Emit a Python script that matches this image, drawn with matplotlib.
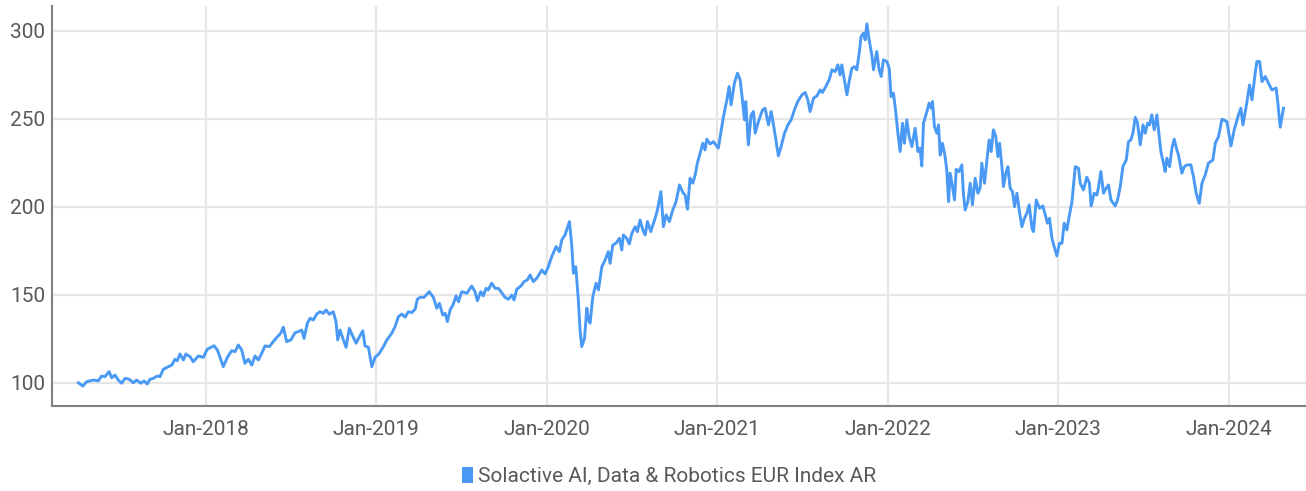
import matplotlib
matplotlib.use("Agg")
import matplotlib.pyplot as plt
from matplotlib.patches import Patch

# Solactive AI, Data & Robotics EUR Index AR
# time axis in decimal years
t = [
    2017.253, 2017.279, 2017.302, 2017.341, 2017.370, 2017.390, 2017.409, 2017.433, 2017.449, 2017.468,
    2017.487, 2017.507, 2017.527, 2017.552, 2017.575, 2017.595, 2017.619, 2017.638, 2017.657, 2017.673,
    2017.693, 2017.716, 2017.732, 2017.751, 2017.781, 2017.801, 2017.820, 2017.833, 2017.849, 2017.869,
    2017.884, 2017.908, 2017.927, 2017.957, 2017.986, 2018.009, 2018.049, 2018.068, 2018.084, 2018.103,
    2018.127, 2018.152, 2018.172, 2018.191, 2018.211, 2018.230, 2018.250, 2018.270, 2018.289, 2018.309,
    2018.328, 2018.348, 2018.373, 2018.396, 2018.420, 2018.440, 2018.455, 2018.475, 2018.499, 2018.524,
    2018.543, 2018.563, 2018.577, 2018.596, 2018.612, 2018.631, 2018.651, 2018.670, 2018.690, 2018.706,
    2018.725, 2018.748, 2018.764, 2018.774, 2018.788, 2018.804, 2018.823, 2018.842, 2018.862, 2018.882,
    2018.901, 2018.921, 2018.934, 2018.954, 2018.974, 2018.993, 2019.018, 2019.042, 2019.062, 2019.091,
    2019.110, 2019.130, 2019.150, 2019.169, 2019.188, 2019.208, 2019.228, 2019.241, 2019.257, 2019.280,
    2019.311, 2019.335, 2019.355, 2019.370, 2019.390, 2019.404, 2019.417, 2019.433, 2019.452, 2019.468,
    2019.482, 2019.501, 2019.531, 2019.560, 2019.579, 2019.593, 2019.613, 2019.628, 2019.644, 2019.657,
    2019.677, 2019.697, 2019.716, 2019.736, 2019.755, 2019.775, 2019.795, 2019.808, 2019.824, 2019.848,
    2019.867, 2019.886, 2019.902, 2019.921, 2019.941, 2019.971, 2019.990, 2020.009, 2020.029, 2020.055,
    2020.074, 2020.088, 2020.107, 2020.133, 2020.147, 2020.156, 2020.170, 2020.185, 2020.195, 2020.205,
    2020.221, 2020.235, 2020.244, 2020.254, 2020.270, 2020.289, 2020.303, 2020.323, 2020.342, 2020.361,
    2020.371, 2020.387, 2020.406, 2020.426, 2020.440, 2020.449, 2020.469, 2020.484, 2020.499, 2020.518,
    2020.531, 2020.547, 2020.563, 2020.577, 2020.590, 2020.610, 2020.635, 2020.649, 2020.669, 2020.684,
    2020.700, 2020.719, 2020.739, 2020.758, 2020.778, 2020.798, 2020.811, 2020.825, 2020.840, 2020.856,
    2020.870, 2020.883, 2020.899, 2020.915, 2020.928, 2020.938, 2020.958, 2020.977, 2021.006, 2021.022,
    2021.036, 2021.056, 2021.069, 2021.081, 2021.100, 2021.118, 2021.134, 2021.147, 2021.159, 2021.167,
    2021.182, 2021.198, 2021.212, 2021.222, 2021.238, 2021.251, 2021.265, 2021.280, 2021.300, 2021.316,
    2021.339, 2021.358, 2021.374, 2021.394, 2021.414, 2021.433, 2021.452, 2021.472, 2021.496, 2021.515,
    2021.531, 2021.544, 2021.564, 2021.584, 2021.603, 2021.616, 2021.636, 2021.656, 2021.672, 2021.691,
    2021.707, 2021.720, 2021.730, 2021.745, 2021.760, 2021.773, 2021.789, 2021.804, 2021.818, 2021.832,
    2021.843, 2021.857, 2021.867, 2021.877, 2021.890, 2021.906, 2021.916, 2021.935, 2021.949, 2021.961,
    2021.974, 2021.994, 2022.008, 2022.019, 2022.033, 2022.047, 2022.059, 2022.072, 2022.086, 2022.097,
    2022.111, 2022.125, 2022.141, 2022.160, 2022.176, 2022.189, 2022.199, 2022.209, 2022.229, 2022.242,
    2022.254, 2022.262, 2022.273, 2022.287, 2022.297, 2022.307, 2022.320, 2022.336, 2022.346, 2022.356,
    2022.365, 2022.379, 2022.391, 2022.401, 2022.418, 2022.434, 2022.443, 2022.453, 2022.469, 2022.483,
    2022.496, 2022.512, 2022.528, 2022.541, 2022.551, 2022.567, 2022.581, 2022.594, 2022.606, 2022.619,
    2022.633, 2022.645, 2022.655, 2022.669, 2022.678, 2022.692, 2022.704, 2022.717, 2022.731, 2022.743,
    2022.757, 2022.770, 2022.786, 2022.801, 2022.815, 2022.829, 2022.845, 2022.854, 2022.870, 2022.889,
    2022.909, 2022.923, 2022.936, 2022.948, 2022.962, 2022.975, 2022.991, 2023.006, 2023.021, 2023.034,
    2023.050, 2023.065, 2023.079, 2023.099, 2023.118, 2023.128, 2023.147, 2023.167, 2023.182, 2023.192,
    2023.210, 2023.226, 2023.235, 2023.249, 2023.265, 2023.280, 2023.294, 2023.308, 2023.333, 2023.347,
    2023.363, 2023.378, 2023.398, 2023.411, 2023.425, 2023.437, 2023.451, 2023.464, 2023.480, 2023.496,
    2023.509, 2023.523, 2023.534, 2023.548, 2023.562, 2023.578, 2023.587, 2023.601, 2023.616, 2023.626,
    2023.636, 2023.652, 2023.666, 2023.679, 2023.695, 2023.704, 2023.724, 2023.738, 2023.754, 2023.777,
    2023.792, 2023.808, 2023.826, 2023.842, 2023.861, 2023.880, 2023.906, 2023.920, 2023.939, 2023.959,
    2023.988, 2024.012, 2024.031, 2024.056, 2024.070, 2024.082, 2024.106, 2024.121, 2024.135, 2024.154,
    2024.164, 2024.180, 2024.194, 2024.213, 2024.232, 2024.252, 2024.277, 2024.285, 2024.301, 2024.320,
]

index_values = [
    100.0, 98.1, 100.6, 101.5, 101.1, 103.8, 103.4, 106.3, 102.8, 104.4,
    101.5, 99.7, 102.5, 101.9, 100.0, 101.5, 99.7, 101.0, 99.3, 101.9,
    102.5, 103.8, 103.4, 107.6, 109.1, 110.0, 113.3, 112.5, 116.3, 112.9,
    116.3, 114.8, 111.9, 115.2, 114.4, 119.0, 121.0, 118.6, 114.4, 109.1,
    114.4, 118.2, 117.6, 121.4, 118.6, 111.0, 113.3, 110.0, 115.2, 112.9,
    116.7, 120.9, 120.5, 123.3, 126.1, 128.1, 131.5, 123.3, 124.3, 128.4,
    129.0, 129.9, 125.2, 133.8, 136.6, 135.6, 139.0, 140.3, 139.4, 141.3,
    138.9, 140.3, 134.7, 124.3, 129.9, 125.2, 120.1, 130.9, 126.5, 122.4,
    126.1, 129.5, 120.9, 120.1, 109.1, 114.4, 116.7, 120.5, 124.3, 128.1,
    131.8, 137.5, 139.0, 137.2, 140.3, 139.8, 141.7, 147.4, 148.5, 148.5,
    151.7, 148.5, 142.3, 145.1, 138.5, 139.4, 134.7, 141.3, 144.7, 149.3,
    146.0, 151.7, 150.8, 154.9, 151.7, 146.6, 151.7, 149.3, 153.6, 152.7,
    156.5, 153.6, 153.6, 151.1, 148.5, 147.4, 149.8, 147.0, 153.1, 154.9,
    157.4, 158.4, 161.2, 157.4, 159.3, 164.0, 161.8, 165.9, 171.6, 177.3,
    174.4, 181.1, 183.9, 191.5, 177.3, 162.2, 165.9, 147.0, 129.9, 120.5,
    125.2, 142.3, 135.6, 133.8, 148.9, 156.5, 152.7, 165.9, 169.7, 174.4,
    167.8, 178.2, 179.2, 182.0, 175.4, 183.9, 182.0, 178.8, 184.9, 188.6,
    185.8, 192.4, 186.8, 183.9, 191.5, 185.8, 193.4, 198.1, 208.5, 188.6,
    195.3, 191.5, 198.1, 202.8, 212.3, 208.0, 206.6, 198.5, 216.1, 213.3,
    218.0, 224.7, 230.3, 236.0, 232.2, 238.3, 235.6, 236.9, 233.2, 242.6,
    251.1, 260.6, 268.2, 257.8, 270.1, 275.8, 272.0, 260.6, 249.3, 259.7,
    235.1, 252.1, 254.0, 241.7, 247.4, 251.1, 254.9, 255.9, 246.4, 254.0,
    240.7, 228.8, 234.1, 241.7, 246.4, 249.3, 254.9, 259.7, 263.5, 264.8,
    260.6, 254.0, 261.6, 262.9, 266.3, 264.8, 268.2, 272.0, 277.7, 276.7,
    280.5, 274.8, 280.5, 272.0, 263.5, 271.0, 278.6, 279.5, 277.7, 287.2,
    296.6, 298.5, 294.7, 303.8, 294.7, 286.2, 277.7, 288.1, 277.7, 273.9,
    283.4, 282.4, 278.6, 262.5, 264.4, 253.1, 241.7, 231.3, 247.4, 236.0,
    249.3, 239.8, 234.1, 244.5, 231.3, 233.2, 223.1, 247.4, 254.0, 258.8,
    255.9, 259.7, 245.5, 241.7, 246.4, 229.3, 236.0, 228.4, 219.9, 202.8,
    219.0, 211.4, 203.8, 221.2, 219.9, 223.7, 207.6, 198.1, 202.8, 213.3,
    201.0, 216.1, 207.6, 210.5, 224.7, 213.3, 226.5, 237.9, 231.3, 243.6,
    239.8, 228.4, 236.0, 222.7, 211.4, 219.0, 222.7, 210.5, 208.5, 200.0,
    207.6, 198.1, 188.6, 193.4, 196.2, 201.0, 187.7, 185.8, 203.8, 199.1,
    200.4, 195.3, 190.6, 193.4, 182.0, 177.3, 172.0, 179.2, 179.2, 190.6,
    186.8, 195.3, 202.3, 222.7, 221.8, 213.3, 209.5, 216.7, 213.3, 200.4,
    207.6, 206.6, 211.0, 219.9, 207.6, 210.5, 212.3, 203.8, 200.4, 203.8,
    211.4, 222.7, 226.5, 236.9, 237.9, 241.7, 250.7, 247.4, 235.1, 246.4,
    241.7, 247.4, 246.4, 252.1, 243.6, 252.1, 243.6, 231.3, 224.7, 219.9,
    227.5, 222.7, 233.2, 238.3, 232.2, 229.4, 219.0, 222.7, 223.7, 223.7,
    217.1, 207.6, 201.9, 213.3, 218.0, 224.7, 226.5, 236.0, 239.8, 249.6,
    248.3, 234.5, 243.6, 252.1, 255.9, 246.4, 259.7, 269.1, 260.6, 275.8,
    282.4, 282.4, 271.0, 273.9, 270.1, 266.3, 267.3, 260.6, 245.1, 255.9,
]

tick_years = [2018, 2019, 2020, 2021, 2022, 2023, 2024]
tick_labels = ["Jan-2018", "Jan-2019", "Jan-2020", "Jan-2021", "Jan-2022", "Jan-2023", "Jan-2024"]
y_ticks = [100, 150, 200, 250, 300]
series_name = "Solactive AI, Data & Robotics EUR Index AR"

line_color = "#4a9af5"
grid_color = "#e6e6e6"
text_color = "#595959"

plt.rcParams["font.family"] = ["Roboto", "DejaVu Sans"]

fig = plt.figure(figsize=(13.06, 4.91), dpi=100)
ax = fig.add_axes([0.040, 0.1725, 0.960, 0.8155])

ax.plot(t, index_values, color=line_color, linewidth=2.1, solid_joinstyle="round", zorder=3)

ax.set_xlim(2017.10, 2024.452)
ax.set_ylim(86.6, 314.0)
ax.set_xticks(tick_years)
ax.set_xticklabels(tick_labels)
ax.set_yticks(y_ticks)

ax.grid(True, color=grid_color, linewidth=1.6, zorder=0)
ax.set_axisbelow(True)

for side in ["top", "right"]:
    ax.spines[side].set_visible(False)
for side in ["left", "bottom"]:
    ax.spines[side].set_color("#808080")
    ax.spines[side].set_linewidth(1.5)

ax.tick_params(axis="both", length=0, labelsize=15, colors=text_color)
ax.tick_params(axis="x", pad=10)
ax.tick_params(axis="y", pad=5)

handle = Patch(facecolor=line_color, edgecolor="none")
ax.legend([handle], [series_name], loc="center", bbox_to_anchor=(0.492, -0.176),
          frameon=False, fontsize=15, handlelength=0.55, handleheight=0.75,
          handletextpad=0.25, labelcolor=text_color, borderaxespad=0, borderpad=0)

fig.savefig("out.png", dpi=100)
